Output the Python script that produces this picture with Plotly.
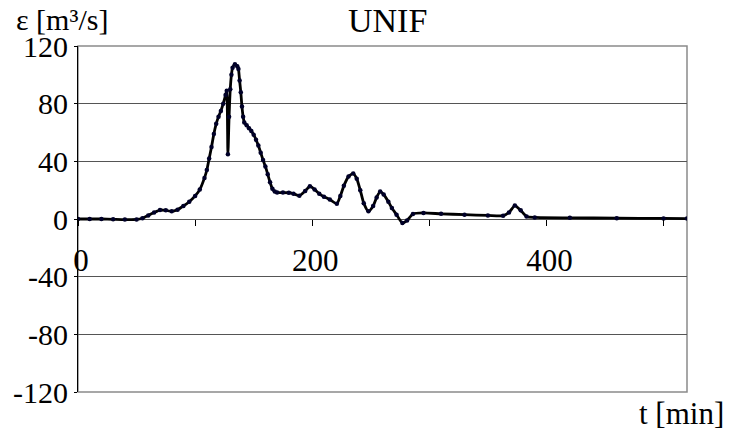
import plotly.graph_objects as go

# Discharge difference over time, UNIF case
t_min = [0, 10, 20, 30, 40, 50, 55, 60, 65, 70, 75, 80, 85, 90, 95, 100, 104, 108,
         110, 112, 114, 116, 118, 120, 122, 124, 126, 127, 128, 129, 130, 131, 132,
         134, 136, 137, 138, 139, 140, 141, 142, 144, 146, 148, 150, 152, 154, 156,
         158, 160, 162, 164, 166, 168, 170, 175, 180, 184, 189, 194, 198, 202, 206,
         210, 215, 221, 224, 227, 231, 235, 238, 241, 244, 248, 252, 255, 258, 261,
         265, 268, 272, 277, 281, 286, 295, 310, 330, 350, 363, 368, 373, 378, 383,
         390, 420, 460, 500, 520]
eps = [0, 0, 0, -0.2, -0.4, -0.3, 0.5, 2.5, 4.5, 6.2, 6.0, 5.3, 6.5, 9.0, 12, 16, 20.4, 28.5,
       34, 42, 50, 59, 66, 71, 75, 80, 86, 89, 45, 71, 90, 100, 105,
       107.3, 106, 104, 96, 88, 78, 71, 67, 65, 63, 61, 58.5, 55, 51, 46,
       41, 36.5, 31, 25.5, 21, 19, 18.3, 18.3, 18.2, 17.5, 16.2, 19.5, 22.7, 20.5, 17.5,
       15.5, 13.5, 10.6, 16, 23, 29.5, 31.5, 28, 20, 11, 5.3, 9, 15, 19, 17,
       12, 7.6, 3, -2.8, -1, 3.5, 4.2, 3.6, 3.0, 2.5, 2.3, 4.5, 9.3, 6, 1.8,
       1.1, 0.8, 0.6, 0.4, 0.3]

y_ticks = [-120, -80, -40, 0, 40, 80, 120]
y_labels = ["-120", "-80", "-40", "0", "40", "80", "120"]
x_ticks = [0, 200, 400]
x_labels = ["0", "200", "400"]

FONT = "Liberation Serif"

fig = go.Figure()
fig.add_trace(go.Scatter(
    x=t_min, y=eps, mode="lines+markers",
    line=dict(color="black", width=2.8, shape="spline", smoothing=0.6),
    marker=dict(color="#000028", size=4.5),
    showlegend=False,
))

fig.update_layout(
    width=729, height=432,
    margin=dict(l=78, r=42, t=46, b=40),
    paper_bgcolor="white", plot_bgcolor="white",
    font=dict(family=FONT, size=30, color="black"),
    xaxis=dict(
        range=[0, 520], anchor="free", position=0.5,
        tickvals=x_ticks, ticktext=x_labels,
        ticks="outside", ticklen=6, tickcolor="black", tickwidth=1,
        minor=dict(dtick=100, tick0=0, ticks="outside", ticklen=6,
                   tickcolor="black", showgrid=False),
        showgrid=False, zeroline=False, showline=False,
        ticklabelstandoff=8, ticklabelshift=3,
        tickfont=dict(family=FONT, size=31),
    ),
    yaxis=dict(
        range=[-120, 120], tickvals=y_ticks, ticktext=y_labels,
        ticks="outside", ticklen=3, tickcolor="black",
        showgrid=True, gridcolor="#555555", gridwidth=1,
        zeroline=False, showline=True, linecolor="black", linewidth=1,
        tickfont=dict(family=FONT, size=30),
    ),
    shapes=[dict(type="rect", xref="paper", yref="paper", x0=0, y0=0, x1=1, y1=1,
                 line=dict(color="#8a8a8a", width=1.5), layer="below")],
    annotations=[
        dict(text="UNIF", xref="paper", yref="paper", x=0.5084, y=1.0,
             xanchor="center", yanchor="bottom", yshift=5, showarrow=False,
             font=dict(family=FONT, size=34)),
        dict(text="ε [m³/s]", xref="paper", yref="paper", x=-0.1, y=1.0,
             xanchor="left", yanchor="bottom", xshift=-3, yshift=8, showarrow=False,
             font=dict(family=FONT, size=30)),
        dict(text="t [min]", xref="paper", yref="paper", x=1.0, y=0.0,
             xanchor="left", yanchor="top", xshift=-50, yshift=-2, showarrow=False,
             font=dict(family=FONT, size=31)),
    ],
)

fig.write_html("out.html")
